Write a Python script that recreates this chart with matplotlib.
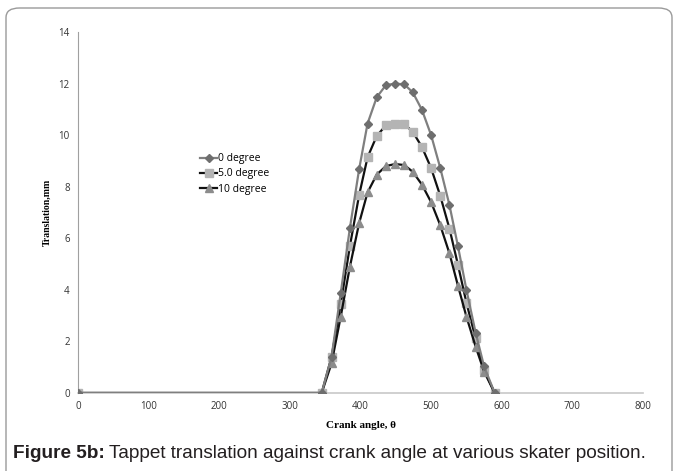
import matplotlib.pyplot as plt
from matplotlib.patches import FancyBboxPatch

# crank angle (deg) and tappet translation (mm)
crank_angle = [0, 345, 359, 372, 385, 398, 410, 423, 436, 449, 462,
               474, 487, 500, 513, 526, 538, 550, 563, 575, 590]
deg_0 = [0, 0, 1.4, 3.87, 6.4, 8.67, 10.45, 11.47, 11.94, 12.0, 11.97,
         11.66, 10.98, 10.0, 8.72, 7.28, 5.69, 4.0, 2.34, 1.03, 0]
deg_5 = [0, 0, 1.4, 3.45, 5.7, 7.67, 9.14, 9.97, 10.38, 10.45, 10.43,
         10.13, 9.54, 8.72, 7.64, 6.37, 4.97, 3.5, 2.12, 0.9, 0]
deg_10 = [0, 0, 1.15, 2.96, 4.9, 6.58, 7.78, 8.47, 8.8, 8.88, 8.84,
          8.58, 8.08, 7.4, 6.5, 5.41, 4.16, 2.96, 1.8, 0.83, 0]
series_labels = ['0 degree', '5.0 degree', '10 degree']
x_ticks = list(range(0, 801, 100))
y_ticks = list(range(0, 15, 2))

fig = plt.figure(figsize=(6.74, 4.71), dpi=100)

# rounded frame around the figure and caption
frame = FancyBboxPatch((6 / 674, -0.05), 666 / 674, (463 / 471) + 0.05,
                       boxstyle='round,pad=0,rounding_size=0.02',
                       transform=fig.transFigure, fill=False,
                       edgecolor='#9a9a9a', linewidth=1.0)
fig.patches.append(frame)

ax = fig.add_axes([78 / 674, 78 / 471, 565 / 674, 361 / 471])

ax.plot(crank_angle, deg_0, color='#7f7f7f', linewidth=1.6, marker='D',
        markersize=4.2, markerfacecolor='#6e6e6e', markeredgecolor='#6e6e6e',
        label=series_labels[0], zorder=3)
ax.plot(crank_angle, deg_5, color='#111111', linewidth=1.6, marker='s',
        markersize=5.5, markerfacecolor='#b4b4b4', markeredgecolor='#b4b4b4',
        label=series_labels[1], zorder=2)
ax.plot(crank_angle, deg_10, color='#111111', linewidth=1.6, marker='^',
        markersize=5.5, markerfacecolor='#8c8c8c', markeredgecolor='#8c8c8c',
        label=series_labels[2], zorder=2)

ax.set_xlim(0, 800)
ax.set_ylim(0, 14)
ax.set_xticks(x_ticks)
ax.set_yticks(y_ticks)
ax.tick_params(axis='both', length=0, labelsize=7, colors='#333333')
ax.tick_params(axis='x', pad=6)
ax.tick_params(axis='y', pad=6)
for lbl in ax.get_xticklabels() + ax.get_yticklabels():
    lbl.set_family('Open Sans')

for side in ['top', 'right']:
    ax.spines[side].set_visible(False)
ax.spines['left'].set_color('#a0a0a0')
ax.spines['bottom'].set_color('#c8c8c8')
ax.spines['bottom'].set_linewidth(1.2)

ax.set_xlabel('Crank angle, θ', family='Liberation Serif', fontsize=8,
              fontweight='bold', labelpad=6)
ax.set_ylabel('Translation,mm', family='Liberation Serif', fontsize=7,
              fontweight='bold', labelpad=5)

ax.legend(loc='upper left', bbox_to_anchor=(0.2, 0.69), frameon=False,
          handlelength=1.6, handletextpad=0.1, labelspacing=0.4,
          prop={'family': 'Open Sans', 'size': 7.5})

bold = fig.text(13 / 674, 1 - 458 / 471, 'Figure 5b:', family='Liberation Sans',
                fontsize=13.7, fontweight='bold', color='#231f20', va='baseline')
fig.canvas.draw()
bb = bold.get_window_extent()
fig.text((bb.x1 + 4) / fig.bbox.width, 1 - 458 / 471,
         'Tappet translation against crank angle at various skater position.',
         family='Liberation Sans', fontsize=13.7, color='#231f20', va='baseline')

fig.savefig('out.png', dpi=100)
